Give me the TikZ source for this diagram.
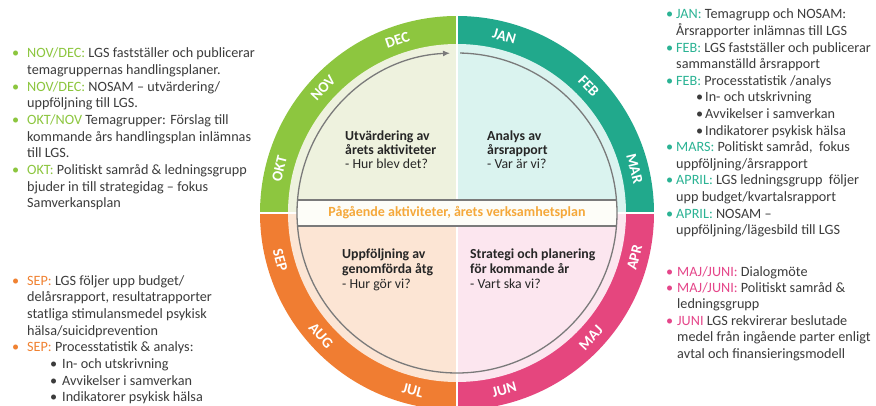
\documentclass[tikz,border=0pt]{standalone}
\usepackage{fontspec}
\setmainfont{Carlito}
\usetikzlibrary{arrows.meta}
\definecolor{rgreen}{HTML}{8DC63F}
\definecolor{rteal}{HTML}{21A98C}
\definecolor{rorange}{HTML}{F07D32}
\definecolor{rpink}{HTML}{E5467E}
\definecolor{qgreen}{HTML}{EEF2DE}
\definecolor{qteal}{HTML}{DAF3EF}
\definecolor{qorange}{HTML}{FCE5D4}
\definecolor{qpink}{HTML}{FCE6EF}
\definecolor{bandfill}{HTML}{FDFDF8}
\definecolor{bandtxt}{HTML}{F5A83A}
\definecolor{bodytxt}{HTML}{3C3C3C}
\definecolor{quadtxt}{HTML}{262626}
\definecolor{lgreen}{HTML}{8CC63E}
\definecolor{lteal}{HTML}{2BB394}
\definecolor{lorange}{HTML}{F08232}
\definecolor{lpink}{HTML}{E5468A}
\definecolor{gline}{HTML}{7A7A7A}
\newcommand\cgr[1]{\textcolor{lgreen}{#1}}
\newcommand\cte[1]{\textcolor{lteal}{#1}}
\newcommand\cor[1]{\textcolor{lorange}{#1}}
\newcommand\cpk[1]{\textcolor{lpink}{#1}}
\begin{document}
\begin{tikzpicture}[x=1pt,y=1pt,
  side/.style={anchor=base west, inner sep=0pt, font=\fontsize{14.2}{16}\selectfont, text=bodytxt},
  quad/.style={anchor=base west, inner sep=0pt, font=\fontsize{13.8}{15}\selectfont, text=quadtxt},
  quadb/.style={quad, font=\fontsize{13.8}{15}\selectfont\bfseries},
  month/.style={inner sep=0pt, font=\fontsize{15}{16}\selectfont\bfseries, text=white},
  grayline/.style={draw=gline, line width=1.3pt}]
\useasboundingbox (0,0) rectangle (876,405);
\fill[white] (0,0) rectangle (876,405);
\coordinate (C) at (457,192);
% ring sectors
\fill[rgreen] (C) -- ([shift={(90:197pt)}]C) arc[start angle=90,end angle=180,radius=197pt] -- cycle;
\fill[rteal] (C) -- ([shift={(0:197pt)}]C) arc[start angle=0,end angle=90,radius=197pt] -- cycle;
\fill[rpink] (C) -- ([shift={(-90:197pt)}]C) arc[start angle=-90,end angle=0,radius=197pt] -- cycle;
\fill[rorange] (C) -- ([shift={(180:197pt)}]C) arc[start angle=180,end angle=270,radius=197pt] -- cycle;
% inner quadrants
\fill[qgreen] (C) -- ([shift={(90:169pt)}]C) arc[start angle=90,end angle=180,radius=169pt] -- cycle;
\fill[qteal] (C) -- ([shift={(0:169pt)}]C) arc[start angle=0,end angle=90,radius=169pt] -- cycle;
\fill[qpink] (C) -- ([shift={(-90:169pt)}]C) arc[start angle=-90,end angle=0,radius=169pt] -- cycle;
\fill[qorange] (C) -- ([shift={(180:169pt)}]C) arc[start angle=180,end angle=270,radius=169pt] -- cycle;
% white dividers
\draw[white, line width=2pt] ([yshift=200pt]C) -- ([yshift=-200pt]C);
\draw[white, line width=2pt] ([xshift=-200pt]C) -- ([xshift=200pt]C);
% band
\begin{scope}
\clip (C) circle[radius=160pt];
\fill[bandfill] ([shift={(-170pt,-13pt)}]C) rectangle ([shift={(170pt,13pt)}]C);
\end{scope}
\draw[grayline] ([shift={(-159.47pt,13pt)}]C) -- ([shift={(159.47pt,13pt)}]C);
\draw[grayline] ([shift={(-159.47pt,-13pt)}]C) -- ([shift={(159.47pt,-13pt)}]C);
\draw[grayline, -{Latex[length=7pt,width=6pt]}] ([shift={(88.9:160pt)}]C) arc[start angle=88.9, end angle=-267.5, radius=160pt];
\node[font=\fontsize{14}{16}\selectfont\bfseries, text=bandtxt, inner sep=0pt] (band) at (C) {Pågående aktiviteter, årets verksamhetsplan};
% months
\node[month, rotate=-15] (jan) at ([shift={(75:183pt)}]C) {JAN};
\node[month, rotate=-46] (feb) at ([shift={(44:183pt)}]C) {FEB};
\node[month, rotate=-76] (mar) at ([shift={(14:183pt)}]C) {MAR};
\node[month, rotate=76] (apr) at ([shift={(-14:183pt)}]C) {APR};
\node[month, rotate=47] (maj) at ([shift={(-43:183pt)}]C) {MAJ};
\node[month, rotate=15] (jun) at ([shift={(-75:183pt)}]C) {JUN};
\node[month, rotate=-14] (jul) at ([shift={(-104:183pt)}]C) {JUL};
\node[month, rotate=-48] (aug) at ([shift={(-138:183pt)}]C) {AUG};
\node[month, rotate=-75] (sep) at ([shift={(-165:183pt)}]C) {SEP};
\node[month, rotate=76] (okt) at ([shift={(166:183pt)}]C) {OKT};
\node[month, rotate=47] (nov) at ([shift={(137:183pt)}]C) {NOV};
\node[month, rotate=19] (dec) at ([shift={(109:183pt)}]C) {DEC};
% quadrant texts
\node[quadb] (q11) at (345,264.3) {Utvärdering av};
\node[quadb] (q12) at (345,250.3) {årets aktiviteter};
\node[quad] (q13) at (345,236.3) {- Hur blev det?};
\node[quadb] (q21) at (487,264.3) {Analys av};
\node[quadb] (q22) at (487,250.3) {årsrapport};
\node[quad] (q23) at (487,236.3) {- Var är vi?};
\node[quadb] (q31) at (342,146.7) {Uppföljning av};
\node[quadb] (q32) at (342,131.7) {genomförda åtg};
\node[quad] (q33) at (342,116.7) {- Hur gör vi?};
\node[quadb] (q41) at (470,146.7) {Strategi och planering};
\node[quadb] (q42) at (470,131.7) {för kommande år};
\node[quad] (q43) at (470,116.7) {- Vart ska vi?};
% left top
\node[side] (lb1) at (12,347.3) {\cgr{•}};
\node[side] (l1) at (27,347.3) {\cgr{NOV/DEC:} LGS fastställer och publicerar};
\node[side] (l2) at (27,330.6) {temagruppernas handlingsplaner.};
\node[side] (lb3) at (12,313.9) {\cgr{•}};
\node[side] (l3) at (27,313.9) {\cgr{NOV/DEC:} NOSAM – utvärdering/};
\node[side] (l4) at (27,297.2) {uppföljning till LGS.};
\node[side] (lb5) at (12,280.5) {\cgr{•}};
\node[side] (l5) at (27,280.5) {\cgr{OKT/NOV} Temagrupper: Förslag till};
\node[side] (l6) at (27,263.8) {kommande års handlingsplan inlämnas};
\node[side] (l7) at (27,247.1) {till LGS.};
\node[side] (lb8) at (12,230.4) {\cgr{•}};
\node[side] (l8) at (27,230.4) {\cgr{OKT:} Politiskt samråd \& ledningsgrupp};
\node[side] (l9) at (27,213.7) {bjuder in till strategidag – fokus};
\node[side] (l10) at (27,197) {Samverkansplan};
% left bottom
\node[side] (mb1) at (12,120) {\cor{•}};
\node[side] (m1) at (27,120) {\cor{SEP:} LGS följer upp budget/};
\node[side] (m2) at (27,103.3) {delårsrapport, resultatrapporter};
\node[side] (m3) at (27,86.6) {statliga stimulansmedel psykisk};
\node[side] (m4) at (27,69.9) {hälsa/suicidprevention};
\node[side] (mb5) at (12,53.2) {\cor{•}};
\node[side] (m5) at (27,53.2) {\cor{SEP:} Processtatistik \& analys:};
\node[side] (mb6) at (50,36.5) {•};
\node[side] (m6) at (62,36.5) {In- och utskrivning};
\node[side] (mb7) at (50,19.8) {•};
\node[side] (m7) at (62,19.8) {Avvikelser i samverkan};
\node[side] (mb8) at (50,3.1) {•};
\node[side] (m8) at (62,3.1) {Indikatorer psykisk hälsa};
% right top
\node[side] (rb1) at (666,386) {\cte{•}};
\node[side] (r1) at (676,386) {\cte{JAN:} Temagrupp och NOSAM:};
\node[side] (r2) at (676,369.4) {Årsrapporter inlämnas till LGS};
\node[side] (rb3) at (666,352.8) {\cte{•}};
\node[side] (r3) at (676,352.8) {\cte{FEB:} LGS fastställer och publicerar};
\node[side] (r4) at (676,336.2) {sammanställd årsrapport};
\node[side] (rb5) at (666,319.6) {\cte{•}};
\node[side] (r5) at (676,319.6) {\cte{FEB:} Processtatistik /analys};
\node[side] (rb6) at (696,303) {•};
\node[side] (r6) at (705,303) {In- och utskrivning};
\node[side] (rb7) at (696,286.4) {•};
\node[side] (r7) at (705,286.4) {Avvikelser i samverkan};
\node[side] (rb8) at (696,269.8) {•};
\node[side] (r8) at (705,269.8) {Indikatorer psykisk hälsa};
\node[side] (rb9) at (666,253.2) {\cte{•}};
\node[side] (r9) at (676,253.2) {\cte{MARS:} Politiskt samråd,\ \ fokus};
\node[side] (r10) at (676,236.6) {uppföljning/årsrapport};
\node[side] (rb11) at (666,220) {\cte{•}};
\node[side] (r11) at (676,220) {\cte{APRIL:} LGS ledningsgrupp\ \ följer};
\node[side] (r12) at (676,203.4) {upp budget/kvartalsrapport};
\node[side] (rb13) at (666,186.8) {\cte{•}};
\node[side] (r13) at (676,186.8) {\cte{APRIL:} NOSAM –};
\node[side] (r14) at (676,170.2) {uppföljning/lägesbild till LGS};
% right bottom
\node[side] (pb1) at (666,129) {\cpk{•}};
\node[side] (p1) at (677,129) {\cpk{MAJ/JUNI:} Dialogmöte};
\node[side] (pb2) at (666,112.6) {\cpk{•}};
\node[side] (p2) at (677,112.6) {\cpk{MAJ/JUNI:} Politiskt samråd \&};
\node[side] (p3) at (677,96.2) {ledningsgrupp};
\node[side] (pb4) at (666,79.8) {\cpk{•}};
\node[side] (p4) at (677,79.8) {\cpk{JUNI} LGS rekvirerar beslutade};
\node[side] (p5) at (677,63.4) {medel från ingående parter enligt};
\node[side] (p6) at (677,47) {avtal och finansieringsmodell};
\end{tikzpicture}
\end{document}
